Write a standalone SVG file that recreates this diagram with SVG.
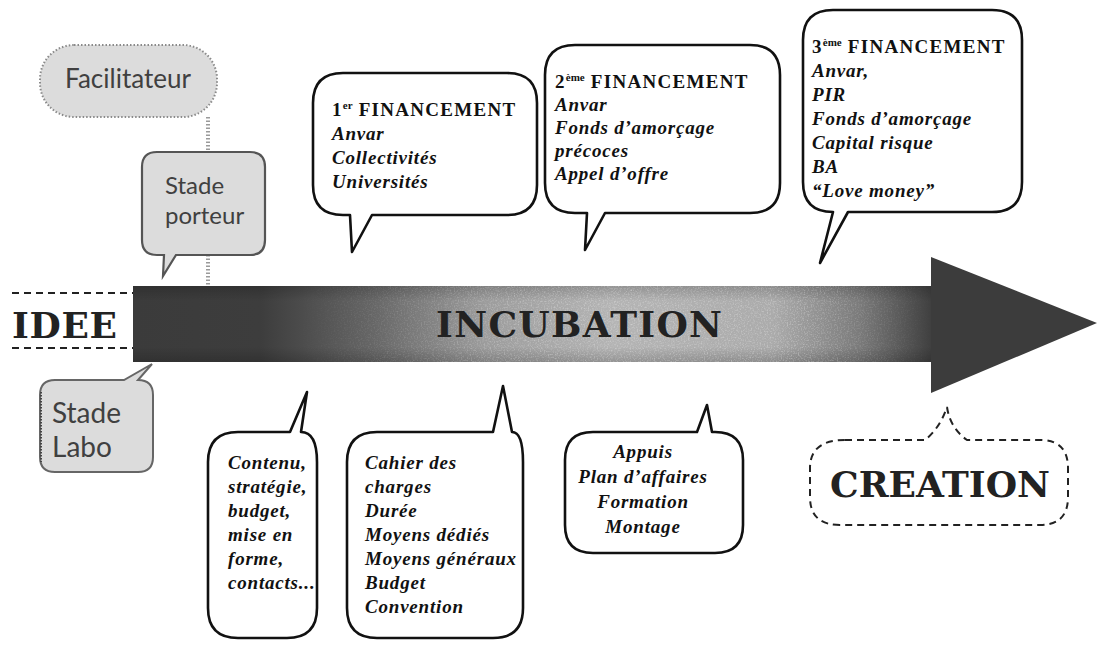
<svg xmlns="http://www.w3.org/2000/svg" width="1097" height="645" viewBox="0 0 1097 645">
<style>
  .bub { fill: #ffffff; stroke: #111111; stroke-width: 2.6; stroke-linejoin: round; }
  .it { font-family: "Liberation Serif", serif; font-weight: bold; font-style: italic; font-size: 19px; letter-spacing: 0.8px; fill: #111111; }
  .hd { font-family: "Liberation Serif", serif; font-weight: bold; font-size: 19px; letter-spacing: 1.3px; fill: #111111; }
  .sup { font-size: 11px; letter-spacing: 0px; }
  .mono { font-family: "DejaVu Serif", "Liberation Serif", serif; font-weight: bold; fill: #222222; }
  .sans { font-family: Lato, "Open Sans", sans-serif; fill: #404040; }
  .gnode { fill: #dcdcdc; }
  .dash { stroke: #222222; stroke-width: 2; stroke-dasharray: 7 5; fill: none; }
  .dots { stroke: #9a9a9a; stroke-width: 4; stroke-dasharray: 1.5 2; fill: none; }
</style>
<defs>
  <linearGradient id="shaftG" x1="133" y1="0" x2="932" y2="0" gradientUnits="userSpaceOnUse">
    <stop offset="0" stop-color="#3b3b3b"/>
    <stop offset="0.16" stop-color="#3d3d3d"/>
    <stop offset="0.3" stop-color="#666666"/>
    <stop offset="0.44" stop-color="#9c9c9c"/>
    <stop offset="0.6" stop-color="#b4b4b4"/>
    <stop offset="0.8" stop-color="#ababab"/>
    <stop offset="0.91" stop-color="#7a7a7a"/>
    <stop offset="1" stop-color="#3f3f3f"/>
  </linearGradient>
  <linearGradient id="edgeG" x1="0" y1="286" x2="0" y2="362" gradientUnits="userSpaceOnUse">
    <stop offset="0" stop-color="#000" stop-opacity="0.18"/>
    <stop offset="0.2" stop-color="#000" stop-opacity="0"/>
    <stop offset="0.8" stop-color="#000" stop-opacity="0"/>
    <stop offset="1" stop-color="#000" stop-opacity="0.18"/>
  </linearGradient>
  <linearGradient id="fadeG" x1="300" y1="0" x2="930" y2="0" gradientUnits="userSpaceOnUse">
    <stop offset="0" stop-color="#fff" stop-opacity="0"/>
    <stop offset="0.35" stop-color="#fff" stop-opacity="0.5"/>
    <stop offset="0.8" stop-color="#fff" stop-opacity="0.5"/>
    <stop offset="1" stop-color="#fff" stop-opacity="0"/>
  </linearGradient>
  <filter id="grain" x="0" y="0" width="100%" height="100%">
    <feTurbulence type="fractalNoise" baseFrequency="0.7" numOctaves="2" seed="4" result="t"/>
    <feColorMatrix in="t" type="matrix" values="0 0 0 0 1  0 0 0 0 1  0 0 0 0 1  1.6 0 0 0 -0.75" result="w"/>
    <feComposite in="w" in2="SourceGraphic" operator="in"/>
  </filter>
</defs>

<g id="connectors">
  <line class="dots" x1="208" y1="117" x2="208" y2="152"/>
  <line class="dots" x1="208" y1="255" x2="208" y2="287"/>
</g>

<g id="node-idee">
  <line class="dash" x1="12" y1="293" x2="133" y2="293"/>
  <line class="dash" x1="12" y1="348" x2="133" y2="348"/>
  <text class="mono" x="12" y="338" font-size="36" textLength="105" lengthAdjust="spacing">IDEE</text>
</g>

<g id="node-incubation">
  <rect x="133" y="286" width="799" height="76" fill="url(#shaftG)"/>
  <rect x="133" y="286" width="799" height="76" fill="url(#edgeG)"/>
  <rect x="300" y="286" width="630" height="76" fill="url(#fadeG)" filter="url(#grain)"/>
  <polygon points="931,257 1097,323 931,393" fill="#3c3c3c"/>
  <text class="mono" x="436" y="337" font-size="36" textLength="286" lengthAdjust="spacing" fill="#2e2e2e">INCUBATION</text>
</g>

<g id="node-facilitateur">
  <rect x="40" y="45" width="177" height="72" rx="34" class="gnode" stroke="#8a8a8a" stroke-width="2" stroke-dasharray="1.5 2"/>
  <text class="sans" x="128" y="88" font-size="26" text-anchor="middle">Facilitateur</text>
</g>

<g id="node-porteur">
  <path d="M157,152 H250 Q265,152 265,167 V240 Q265,255 250,255 H176 L163,276 L164,255 H157 Q142,255 142,240 V167 Q142,152 157,152 Z" class="gnode" stroke="#555555" stroke-width="2.2"/>
  <text class="sans" font-size="24"><tspan x="165" y="194">Stade</tspan><tspan x="165" y="224">porteur</tspan></text>
</g>

<g id="node-labo">
  <path d="M55,380 H124 L152,364 L138,380 Q153,380 153,395 V457 Q153,472 138,472 H55 Q40,472 40,457 V395 Q40,380 55,380 Z" class="gnode" stroke="#666666" stroke-width="2"/>
  <line x1="41" y1="392" x2="41" y2="462" stroke="#444" stroke-width="2" stroke-dasharray="1.5 1.5"/>
  <text class="sans" font-size="28"><tspan x="52" y="423">Stade</tspan><tspan x="52" y="457">Labo</tspan></text>
</g>

<g id="node-fin1">
  <path class="bub" d="M343,73 H507 Q537,73 537,103 V185 Q537,215 507,215 H372 L352,252 L350,215 H343 Q313,215 313,185 V103 Q313,73 343,73 Z"/>
  <text class="hd" x="332" y="116">1<tspan class="sup" dy="-7">er</tspan><tspan dy="7"> FINANCEMENT</tspan></text>
  <text class="it" x="332" y="140">Anvar</text>
  <text class="it" x="332" y="164">Collectivités</text>
  <text class="it" x="332" y="188">Universités</text>
</g>

<g id="node-fin2">
  <path class="bub" d="M575,45 H750 Q780,45 780,75 V183 Q780,213 750,213 H605 L585,250 L587,213 H575 Q545,213 545,183 V75 Q545,45 575,45 Z"/>
  <text class="hd" x="555" y="88">2<tspan class="sup" dy="-7">ème</tspan><tspan dy="7"> FINANCEMENT</tspan></text>
  <text class="it" x="555" y="111">Anvar</text>
  <text class="it" x="555" y="134">Fonds d’amorçage</text>
  <text class="it" x="555" y="157">précoces</text>
  <text class="it" x="555" y="180">Appel  d’offre</text>
</g>

<g id="node-fin3">
  <path class="bub" d="M833,10 H992 Q1022,10 1022,40 V182 Q1022,212 992,212 H848 L820,263 L833,212 Q803,212 803,182 V40 Q803,10 833,10 Z"/>
  <text class="hd" x="812" y="53">3<tspan class="sup" dy="-7">ème</tspan><tspan dy="7"> FINANCEMENT</tspan></text>
  <text class="it" x="812" y="77">Anvar,</text>
  <text class="it" x="812" y="101">PIR</text>
  <text class="it" x="812" y="125">Fonds d’amorçage</text>
  <text class="it" x="812" y="149">Capital risque</text>
  <text class="it" x="812" y="173">BA</text>
  <text class="it" x="812" y="197">“Love money”</text>
</g>

<g id="node-contenu">
  <path class="bub" d="M238,432 H290 L307,392 L301,432 Q317,432 317,462 V608 Q317,638 287,638 H238 Q208,638 208,608 V462 Q208,432 238,432 Z"/>
  <text class="it" x="228" y="469">Contenu,</text>
  <text class="it" x="228" y="493">stratégie,</text>
  <text class="it" x="228" y="517">budget,</text>
  <text class="it" x="228" y="541">mise en</text>
  <text class="it" x="228" y="565">forme,</text>
  <text class="it" x="228" y="589">contacts...</text>
</g>

<g id="node-cahier">
  <path class="bub" d="M377,432 H493 L503,386 L512,432 Q523,432 523,462 V608 Q523,638 493,638 H377 Q347,638 347,608 V462 Q347,432 377,432 Z"/>
  <text class="it" x="365" y="469">Cahier des</text>
  <text class="it" x="365" y="493">charges</text>
  <text class="it" x="365" y="517">Durée</text>
  <text class="it" x="365" y="541">Moyens dédiés</text>
  <text class="it" x="365" y="565">Moyens généraux</text>
  <text class="it" x="365" y="589">Budget</text>
  <text class="it" x="365" y="613">Convention</text>
</g>

<g id="node-appuis">
  <path class="bub" d="M593,432 H697 L707,405 L712,432 H715 Q743,432 743,460 V525 Q743,553 715,553 H593 Q565,553 565,525 V460 Q565,432 593,432 Z"/>
  <text class="it" x="643" y="458" text-anchor="middle">Appuis</text>
  <text class="it" x="643" y="483" text-anchor="middle">Plan d’affaires</text>
  <text class="it" x="643" y="508" text-anchor="middle">Formation</text>
  <text class="it" x="643" y="533" text-anchor="middle">Montage</text>
</g>

<g id="node-creation">
  <path class="dash" d="M845,440 H925 Q940,428 947,407 Q950,428 967,440 H1040 Q1068,440 1068,468 V497 Q1068,525 1040,525 H840 Q810,525 810,497 V468 Q810,440 845,440 Z"/>
  <text class="mono" x="830" y="497" font-size="36" textLength="220" lengthAdjust="spacing">CREATION</text>
</g>
</svg>
